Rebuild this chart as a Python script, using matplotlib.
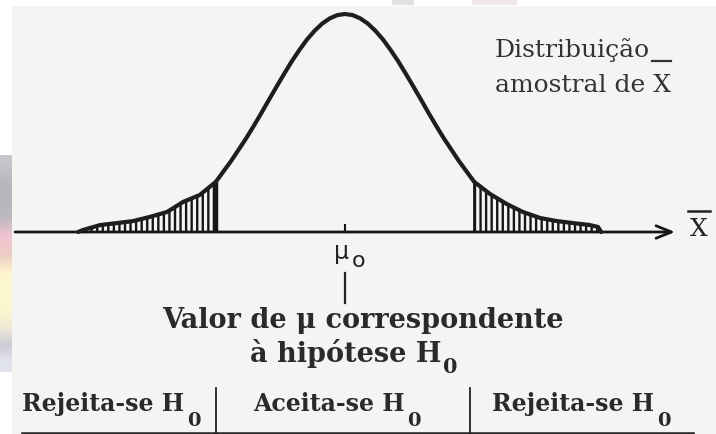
import numpy as np
import matplotlib
matplotlib.use("Agg")
import matplotlib.pyplot as plt
from matplotlib.patches import Rectangle

# ---- data (x in units of sigma from mu0, height relative to peak)
curve_z = [-3.51, -3.45, -3.22, -3.00, -2.79, -2.57, -2.34, -2.13, -1.91, -1.70,
           -1.5, -1.3, -1.2, -1.1, -1.0, -0.9, -0.8, -0.7, -0.6, -0.5, -0.4, -0.3, -0.2, -0.1,
           0.0, 0.1, 0.2, 0.3, 0.4, 0.5, 0.6, 0.7, 0.8, 0.9, 1.0, 1.1, 1.2, 1.3, 1.5,
           1.70, 1.91, 2.13, 2.34, 2.57, 2.79, 3.00, 3.22, 3.33, 3.37]
curve_h = [0.0, 0.009, 0.032, 0.041, 0.050, 0.069, 0.092, 0.138, 0.170, 0.230,
           0.325, 0.430, 0.487, 0.546, 0.607, 0.667, 0.726, 0.783, 0.835, 0.883, 0.923, 0.956, 0.980, 0.995,
           1.0, 0.995, 0.980, 0.956, 0.923, 0.883, 0.835, 0.783, 0.726, 0.667, 0.607, 0.546, 0.487, 0.430, 0.325,
           0.230, 0.174, 0.128, 0.092, 0.064, 0.050, 0.041, 0.032, 0.023, 0.0]
critical_z = 1.70
mu_label = "μ"
axis_label = "X"
curve_title = ["Distribuição", "amostral de X"]
hypothesis_text = ["Valor de μ correspondente", "à hipótese H"]
regions = ["Rejeita-se H", "Aceita-se H", "Rejeita-se H"]
subscript = "0"

W, H = 716, 434
fig = plt.figure(figsize=(W / 100, H / 100), dpi=100)
fig.patch.set_facecolor("white")
plt.rcParams["hatch.linewidth"] = 1.7
renderer = fig.canvas.get_renderer()

# overlay axes in pixel coordinates for page decoration & labels
ov = fig.add_axes([0, 0, 1, 1], zorder=0)
ov.set_xlim(0, W)
ov.set_ylim(H, 0)
ov.axis("off")
ov.add_patch(Rectangle((12, 6), W - 12, H - 6, facecolor="#f4f4f3", edgecolor="none", zorder=0))
strip = np.array([[[200, 197, 204]], [[186, 182, 190]], [[185, 181, 189]], [[190, 186, 192]],
                  [[242, 196, 212]], [[238, 204, 196]], [[252, 244, 206]], [[253, 248, 210]],
                  [[252, 246, 206]], [[240, 234, 214]], [[206, 204, 214]], [[226, 228, 236]]]) / 255.0
ov.imshow(strip, extent=[0, 12, 372, 155], aspect="auto", interpolation="bilinear", zorder=1)
ov.add_patch(Rectangle((392, 0), 22, 5, facecolor="#e2e0e2", edgecolor="none", zorder=1))
ov.add_patch(Rectangle((472, 0), 45, 5, facecolor="#eee6ec", edgecolor="none", zorder=1))

# data axes positioned so that mu0 sits at x=345 px and the baseline at y=232 px
sx, sy, x0, y0 = 76.0, 218.0, 345.0, 232.0
ax = fig.add_axes([0, 0, 1, 1], zorder=2)
ax.set_xlim(-x0 / sx, (W - x0) / sx)
ax.set_ylim((y0 - H) / sy, y0 / sy)
ax.axis("off")
ax.patch.set_alpha(0)

z = np.array(curve_z)
h = np.array(curve_h)
ink = "#161616"
left = z <= -critical_z + 1e-9
right = z >= critical_z - 1e-9
for m in (left, right):
    ax.fill_between(z[m], 0, h[m], facecolor="none", edgecolor=ink, hatch="|||", linewidth=0)
ax.vlines(z[left][-1], 0, h[left][-1], color=ink, lw=3.2)
ax.vlines(z[right][0], 0, h[right][0], color=ink, lw=2.0)
ax.plot(z, h, color="#1e1e1e", lw=3.0, solid_joinstyle="round", solid_capstyle="round")


def extent(t):
    bb = t.get_window_extent(renderer)
    (xa, ya), (xb, yb) = ov.transData.inverted().transform([[bb.x0, bb.y0], [bb.x1, bb.y1]])
    return xa, xb


# horizontal axis with arrow
ov.annotate("", xy=(675, 232), xytext=(15, 232),
            arrowprops=dict(arrowstyle="->,head_length=1.1,head_width=0.45", lw=2.0, color=ink,
                            shrinkA=0, shrinkB=0), zorder=3)
ov.text(699, 229, axis_label, fontsize=18, family="DejaVu Serif", color="#222",
        ha="center", va="center")
ov.plot([688, 710], [211, 211], color="#222", lw=1.8)
# mu0 tick
ov.plot([345, 345], [225, 232], color=ink, lw=1.5)
ov.text(342, 252, mu_label, fontsize=17, family="DejaVu Sans", color="#222", ha="center", va="center")
ov.text(359, 261, "o", fontsize=16, family="DejaVu Sans", color="#222", ha="center", va="center")
ov.plot([345, 345], [273, 303], color="#222", lw=1.6)

# sampling distribution label
ov.text(495, 50, curve_title[0], fontsize=18, family="DejaVu Serif", color="#333",
        ha="left", va="center")
t2 = ov.text(495, 85, curve_title[1], fontsize=18, family="DejaVu Serif", color="#333",
             ha="left", va="center")
xa, xb = extent(t2)
ov.plot([xb - 19, xb], [61, 61], color="#333", lw=1.6)

# hypothesis text
ov.text(363, 321, hypothesis_text[0], fontsize=19.5, family="DejaVu Serif", weight="bold",
        color="#2a2a2a", ha="center", va="center")
th = ov.text(250, 353, hypothesis_text[1], fontsize=19.5, family="DejaVu Serif", weight="bold",
             color="#2a2a2a", ha="left", va="center")
xa, xb = extent(th)
ov.text(xb + 1, 367, subscript, fontsize=15, family="DejaVu Serif", weight="bold",
        color="#2a2a2a", ha="left", va="center")

# decision regions
reg_x = [22, 253, 492]
for rx, txt in zip(reg_x, regions):
    tr = ov.text(rx, 404, txt, fontsize=17, family="DejaVu Serif", weight="bold",
                 color="#2a2a2a", ha="left", va="center")
    xa, xb = extent(tr)
    ov.text(xb + 3, 421, subscript, fontsize=14, family="DejaVu Serif", weight="bold",
            color="#2a2a2a", ha="left", va="center")
ov.plot([22, 693], [433, 433], color="#222", lw=1.8)
ov.plot([216, 216], [388, 433], color="#222", lw=1.3)
ov.plot([470, 470], [388, 433], color="#222", lw=1.3)

fig.savefig("out.png", dpi=100, facecolor=fig.get_facecolor())
